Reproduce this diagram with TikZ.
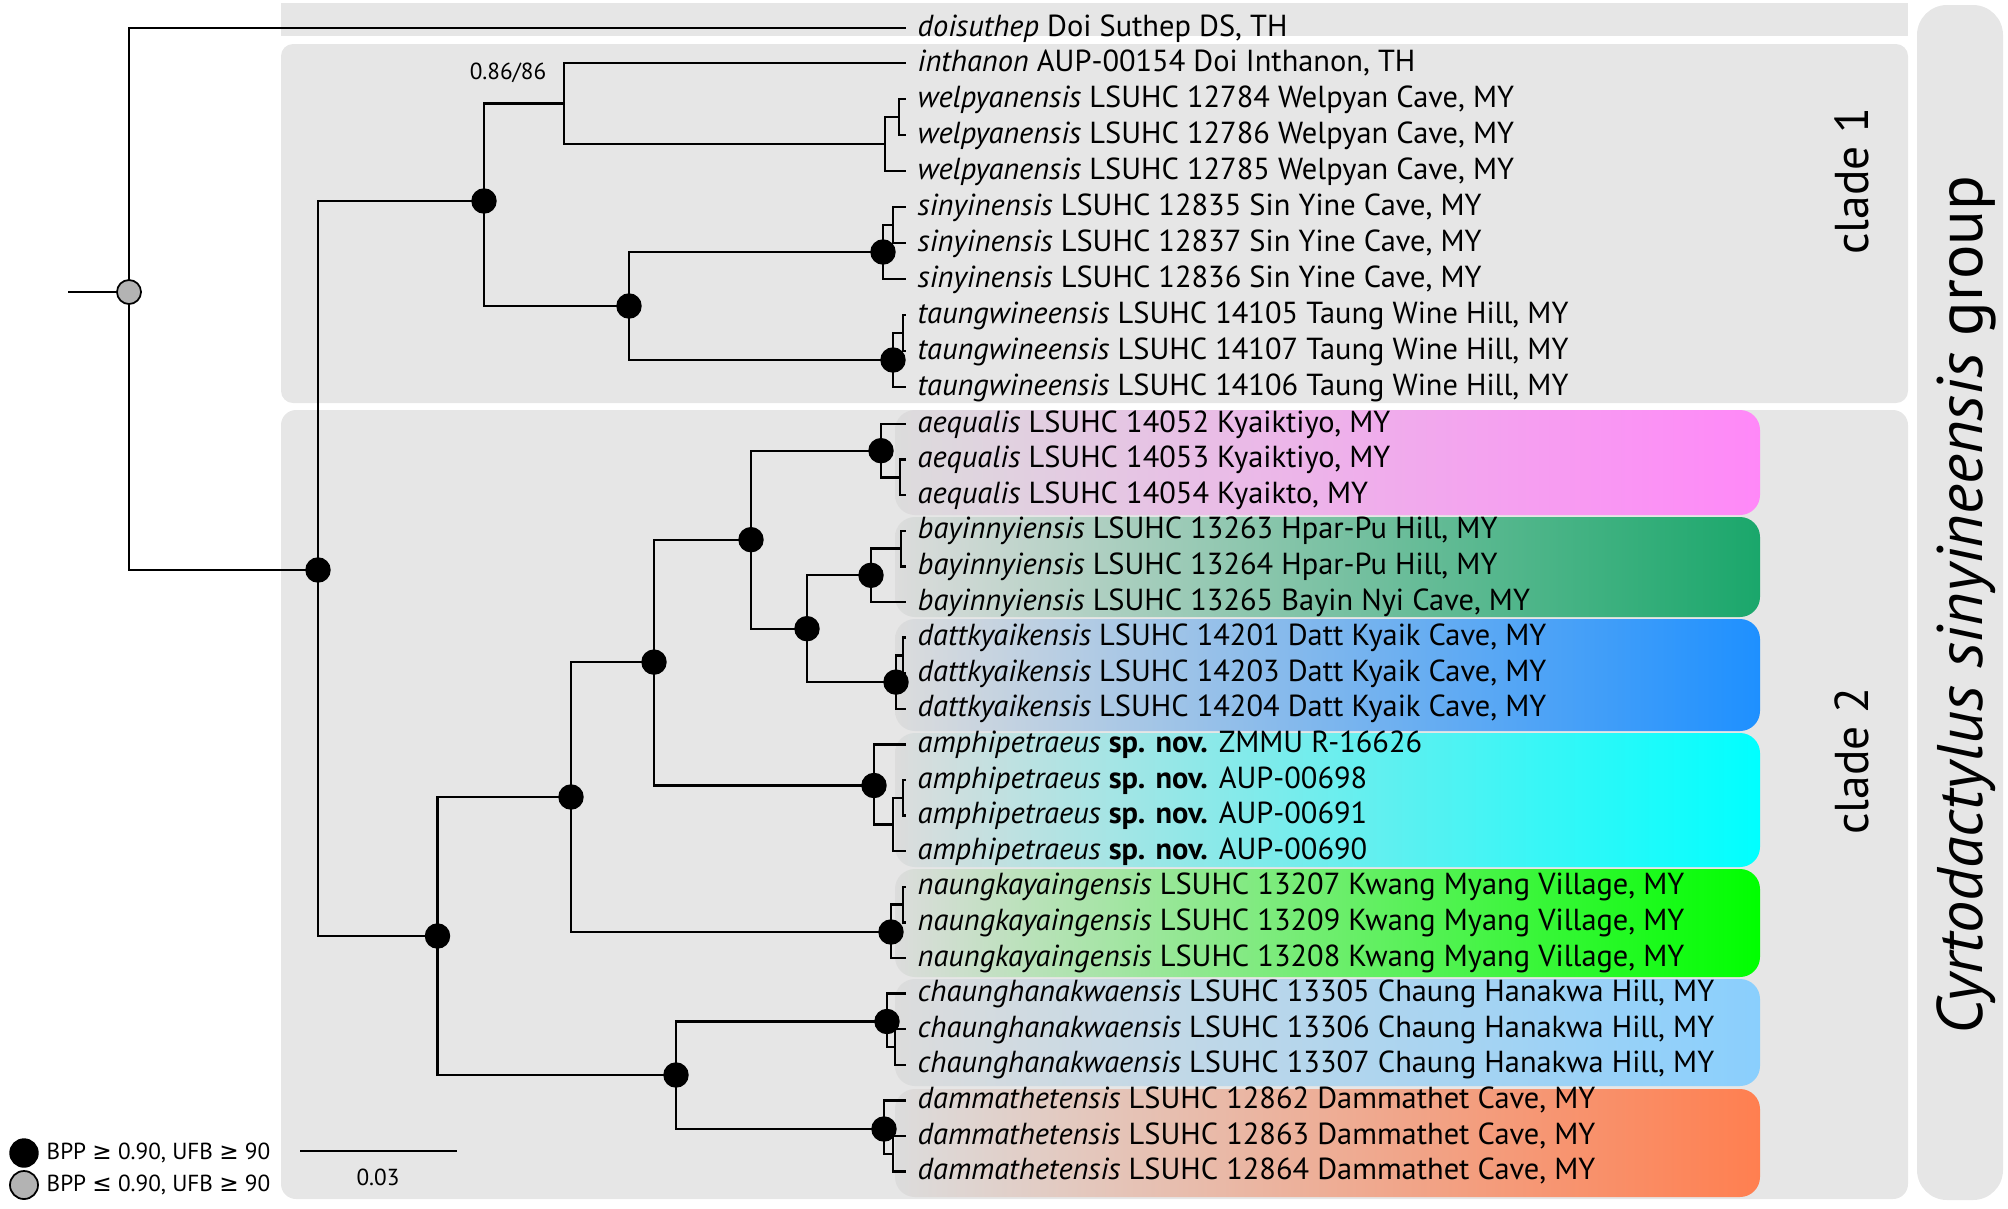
\documentclass[tikz,border=0pt]{standalone}
\usepackage{fontspec}
\setmainfont{PT Sans}
\newfontfamily\symf{DejaVu Sans}
\definecolor{bandgray}{HTML}{E6E6E6}
\definecolor{boxgray}{HTML}{DCDCDC}
\definecolor{cpink}{HTML}{FF88F8}
\definecolor{cgreen}{HTML}{1AA76B}
\definecolor{cblue}{HTML}{1E90FF}
\definecolor{ccyan}{HTML}{00FFFF}
\definecolor{clime}{HTML}{00FF00}
\definecolor{csky}{HTML}{8ACFFD}
\definecolor{ccoral}{HTML}{FF7F50}
\definecolor{dotgray}{HTML}{B3B3B3}
\begin{document}
\begin{tikzpicture}[x=0.01cm,y=-0.01cm,
  br/.style={line width=0.65pt,line join=miter},
  bdot/.style={circle,fill=black,draw=black,inner sep=0pt,minimum size=0.24cm},
  gdot/.style={circle,fill=dotgray,draw=black,line width=0.5pt,inner sep=0pt,minimum size=0.24cm},
  lab/.style={anchor=base west,inner sep=0pt,font=\fontsize{8.65}{10}\selectfont},
  small/.style={inner sep=0pt,font=\fontsize{6.6}{8}\selectfont},
  cladebox/.style={rounded corners=0.2cm,left color=boxgray}]
\useasboundingbox (0,0) rectangle (2008,1208);
% background bands
\fill[bandgray] (281,3) rectangle (1908,36);
\fill[bandgray,rounded corners=0.12cm] (281,44) rectangle (1908,403);
\fill[bandgray,rounded corners=0.15cm] (281,410) rectangle (1908,1199);
\fill[bandgray,rounded corners=0.3cm] (1917,5) rectangle (2003,1200);
% coloured clade boxes
\shade[cladebox,right color=cpink]  (895,410) rectangle (1760,515);
\shade[cladebox,right color=cgreen] (895,517) rectangle (1760,617);
\shade[cladebox,right color=cblue]  (895,619) rectangle (1760,731);
\shade[cladebox,right color=ccyan]  (895,733) rectangle (1760,867);
\shade[cladebox,right color=clime]  (895,869) rectangle (1760,977);
\shade[cladebox,right color=csky]   (895,979) rectangle (1760,1086);
\shade[cladebox,right color=ccoral] (895,1089) rectangle (1760,1197);
% leaf tips
\foreach \i/\y in {0/28,1/63,2/99,3/135,4/171,5/207,6/243,7/279,8/315,9/351,10/387,
  11/424,12/459.6,13/495.2,14/530.8,15/566.4,16/602,17/637.6,18/673.2,19/708.8,
  20/744.4,21/780,22/815.6,23/851.2,24/886.8,25/922.4,26/958,27/993.6,28/1029.2,
  29/1064.8,30/1100.4,31/1136,32/1171.6}
  \coordinate (l\i) at (906,\y);
% internal nodes
\coordinate (stem) at (68,292);
\coordinate (root) at (129,292);
\coordinate (CC) at (318,570);
\coordinate (C1) at (484,201);
\coordinate (N086) at (564,103.5);
\coordinate (W) at (885,144);
\coordinate (W1) at (899,117);
\coordinate (ST) at (629,306);
\coordinate (S) at (883,252);
\coordinate (S1) at (893,225);
\coordinate (T) at (893,360);
\coordinate (T1) at (903,333);
\coordinate (C2a) at (437.5,936);
\coordinate (X5) at (571,797);
\coordinate (X4) at (654,662.1);
\coordinate (X3) at (751,539.7);
\coordinate (A) at (881,450.7);
\coordinate (A1) at (900,477.4);
\coordinate (BD) at (807,628.7);
\coordinate (B) at (871,575.3);
\coordinate (B1) at (901,548.6);
\coordinate (D) at (896,682.1);
\coordinate (D1) at (903,655.4);
\coordinate (P) at (874,785.5);
\coordinate (P1) at (893,824.5);
\coordinate (P2) at (903,797.8);
\coordinate (N) at (891,932);
\coordinate (N1) at (903,904.6);
\coordinate (HM) at (676,1075);
\coordinate (H) at (887,1021.5);
\coordinate (H1) at (895,1047);
\coordinate (M) at (884,1129);
\coordinate (M1) at (893,1153.8);
% branches
\draw[br] (stem) -- (root);
\draw[br] (root) |- (l0);  \draw[br] (root) |- (CC);
\draw[br] (CC) |- (C1);    \draw[br] (CC) |- (C2a);
\draw[br] (C1) |- (N086);  \draw[br] (C1) |- (ST);
\draw[br] (N086) |- (l1);  \draw[br] (N086) |- (W);
\draw[br] (W) |- (W1);     \draw[br] (W) |- (l4);
\draw[br] (W1) |- (l2);    \draw[br] (W1) |- (l3);
\draw[br] (ST) |- (S);     \draw[br] (ST) |- (T);
\draw[br] (S) |- (S1);     \draw[br] (S) |- (l7);
\draw[br] (S1) |- (l5);    \draw[br] (S1) |- (l6);
\draw[br] (T) |- (T1);     \draw[br] (T) |- (l10);
\draw[br] (T1) |- (l8);    \draw[br] (T1) |- (l9);
\draw[br] (C2a) |- (X5);   \draw[br] (C2a) |- (HM);
\draw[br] (X5) |- (X4);    \draw[br] (X5) |- (N);
\draw[br] (X4) |- (X3);    \draw[br] (X4) |- (P);
\draw[br] (X3) |- (A);     \draw[br] (X3) |- (BD);
\draw[br] (A) |- (l11);    \draw[br] (A) |- (A1);
\draw[br] (A1) |- (l12);   \draw[br] (A1) |- (l13);
\draw[br] (BD) |- (B);     \draw[br] (BD) |- (D);
\draw[br] (B) |- (B1);     \draw[br] (B) |- (l16);
\draw[br] (B1) |- (l14);   \draw[br] (B1) |- (l15);
\draw[br] (D) |- (D1);     \draw[br] (D) |- (l19);
\draw[br] (D1) |- (l17);   \draw[br] (D1) |- (l18);
\draw[br] (P) |- (l20);    \draw[br] (P) |- (P1);
\draw[br] (P1) |- (P2);    \draw[br] (P1) |- (l23);
\draw[br] (P2) |- (l21);   \draw[br] (P2) |- (l22);
\draw[br] (N) |- (N1);     \draw[br] (N) |- (l26);
\draw[br] (N1) |- (l24);   \draw[br] (N1) |- (l25);
\draw[br] (HM) |- (H);     \draw[br] (HM) |- (M);
\draw[br] (H) |- (l27);    \draw[br] (H) |- (H1);
\draw[br] (H1) |- (l28);   \draw[br] (H1) |- (l29);
\draw[br] (M) |- (l30);    \draw[br] (M) |- (M1);
\draw[br] (M1) |- (l31);   \draw[br] (M1) |- (l32);
% support dots
\node[gdot] (groot) at (root) {};
\foreach \n in {C1,ST,S,T,CC,C2a,X5,X4,X3,A,BD,B,D,P,N,HM,H,M}
  \node[bdot] (d\n) at (\n) {};
\node[small,anchor=center] (sup086) at (508,73) {0.86/86};
% leaf labels
\node[lab] (t0) at (917,36) {\textit{doisuthep} Doi Suthep DS, TH};
\node[lab] (t1) at (917,71) {\textit{inthanon} AUP-00154 Doi Inthanon, TH};
\node[lab] (t2) at (917,107) {\textit{welpyanensis} LSUHC 12784 Welpyan Cave, MY};
\node[lab] (t3) at (917,143) {\textit{welpyanensis} LSUHC 12786 Welpyan Cave, MY};
\node[lab] (t4) at (917,179) {\textit{welpyanensis} LSUHC 12785 Welpyan Cave, MY};
\node[lab] (t5) at (917,215) {\textit{sinyinensis} LSUHC 12835 Sin Yine Cave, MY};
\node[lab] (t6) at (917,251) {\textit{sinyinensis} LSUHC 12837 Sin Yine Cave, MY};
\node[lab] (t7) at (917,287) {\textit{sinyinensis} LSUHC 12836 Sin Yine Cave, MY};
\node[lab] (t8) at (917,323) {\textit{taungwineensis} LSUHC 14105 Taung Wine Hill, MY};
\node[lab] (t9) at (917,359) {\textit{taungwineensis} LSUHC 14107 Taung Wine Hill, MY};
\node[lab] (t10) at (917,395) {\textit{taungwineensis} LSUHC 14106 Taung Wine Hill, MY};
\node[lab] (t11) at (917,432) {\textit{aequalis} LSUHC 14052 Kyaiktiyo, MY};
\node[lab] (t12) at (917,467.6) {\textit{aequalis} LSUHC 14053 Kyaiktiyo, MY};
\node[lab] (t13) at (917,503.2) {\textit{aequalis} LSUHC 14054 Kyaikto, MY};
\node[lab] (t14) at (917,538.8) {\textit{bayinnyiensis} LSUHC 13263 Hpar-Pu Hill, MY};
\node[lab] (t15) at (917,574.4) {\textit{bayinnyiensis} LSUHC 13264 Hpar-Pu Hill, MY};
\node[lab] (t16) at (917,610) {\textit{bayinnyiensis} LSUHC 13265 Bayin Nyi Cave, MY};
\node[lab] (t17) at (917,645.6) {\textit{dattkyaikensis} LSUHC 14201 Datt Kyaik Cave, MY};
\node[lab] (t18) at (917,681.2) {\textit{dattkyaikensis} LSUHC 14203 Datt Kyaik Cave, MY};
\node[lab] (t19) at (917,716.8) {\textit{dattkyaikensis} LSUHC 14204 Datt Kyaik Cave, MY};
\node[lab] (t20) at (917,752.4) {\textit{amphipetraeus} \textbf{sp. nov.} ZMMU R-16626};
\node[lab] (t21) at (917,788) {\textit{amphipetraeus} \textbf{sp. nov.} AUP-00698};
\node[lab] (t22) at (917,823.6) {\textit{amphipetraeus} \textbf{sp. nov.} AUP-00691};
\node[lab] (t23) at (917,859.2) {\textit{amphipetraeus} \textbf{sp. nov.} AUP-00690};
\node[lab] (t24) at (917,894.8) {\textit{naungkayaingensis} LSUHC 13207 Kwang Myang Village, MY};
\node[lab] (t25) at (917,930.4) {\textit{naungkayaingensis} LSUHC 13209 Kwang Myang Village, MY};
\node[lab] (t26) at (917,966) {\textit{naungkayaingensis} LSUHC 13208 Kwang Myang Village, MY};
\node[lab] (t27) at (917,1001.6) {\textit{chaunghanakwaensis} LSUHC 13305 Chaung Hanakwa Hill, MY};
\node[lab] (t28) at (917,1037.2) {\textit{chaunghanakwaensis} LSUHC 13306 Chaung Hanakwa Hill, MY};
\node[lab] (t29) at (917,1072.8) {\textit{chaunghanakwaensis} LSUHC 13307 Chaung Hanakwa Hill, MY};
\node[lab] (t30) at (917,1108.4) {\textit{dammathetensis} LSUHC 12862 Dammathet Cave, MY};
\node[lab] (t31) at (917,1144) {\textit{dammathetensis} LSUHC 12863 Dammathet Cave, MY};
\node[lab] (t32) at (917,1179.6) {\textit{dammathetensis} LSUHC 12864 Dammathet Cave, MY};
% clade labels
\node[rotate=90,anchor=base,inner sep=0pt,font=\fontsize{13.5}{16}\selectfont] (cl1) at (1868,181) {clade 1};
\node[rotate=90,anchor=base,inner sep=0pt,font=\fontsize{13.5}{16}\selectfont] (cl2) at (1868,761) {clade 2};
\node[rotate=90,anchor=base,inner sep=0pt,font=\fontsize{18.3}{21}\selectfont] (grp) at (1982,605) {\textit{Cyrtodactylus sinyineensis} group};
% scale bar
\coordinate (sb1) at (300,1151);
\coordinate (sb2) at (457,1151);
\draw[br] (sb1) -- (sb2);
\node[small,anchor=center] (sbl) at (378,1177) {0.03};
% legend
\node[bdot,minimum size=0.28cm] (kb) at (24,1153) {};
\node[gdot,minimum size=0.28cm] (kg) at (24,1185) {};
\node[small,anchor=west] (kbt) at (46,1153) {BPP {\symf ≥} 0.90, UFB {\symf ≥} 90};
\node[small,anchor=west] (kgt) at (46,1185) {BPP {\symf ≤} 0.90, UFB {\symf ≥} 90};
\end{tikzpicture}
\end{document}
